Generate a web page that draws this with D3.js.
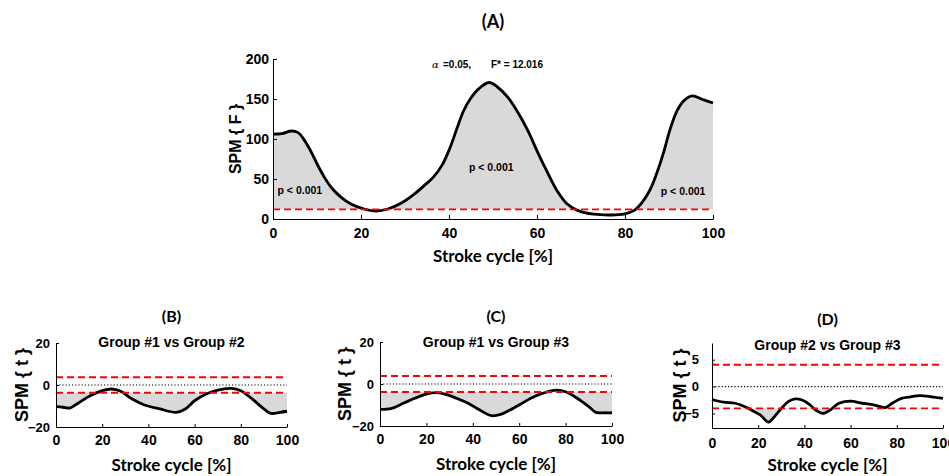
<!DOCTYPE html>
<html>
<head>
<meta charset="utf-8">
<script src="https://cdn.jsdelivr.net/npm/d3@7"></script>
<style>
body { margin: 0; background: #fff; }
svg { display: block; }
.arial { font-family: "Liberation Sans", Arial, sans-serif; font-weight: bold; fill: #000; }
.cal { font-family: Lato, "Open Sans", sans-serif; font-weight: 700; fill: #000; }
</style>
</head>
<body>
<script>
// ---- data ----
var xTicks = [0, 20, 40, 60, 80, 100];

// (A) SPM{F}
var aX = [0, 2, 4.2, 5.7, 7.2, 8.7, 10.2, 11.7, 13.2, 15.5, 17.7, 20.7, 23.4, 26.1, 29.1, 32.1, 34.4, 36.4, 38.5, 40.3, 41.8, 43.3, 44.9, 46.8, 49.1, 51, 53.3, 55.6, 57.9, 60.1, 62.4, 64.6, 66.8, 69.3, 72.9, 76.7, 79.7, 82, 83.9, 85.8, 87.3, 88.8, 90.3, 91.9, 93.4, 95.3, 97.5, 100];
var aF = [106, 106.7, 110, 108, 98, 83.6, 66.9, 52, 39.7, 27, 18.8, 12.5, 10, 12.5, 19.6, 31, 42, 52, 68, 90, 113, 135, 150.6, 163, 170.6, 165, 152.6, 133.8, 110.8, 84, 58, 35, 19, 10.5, 6, 5, 6, 10.4, 20.8, 37.6, 58.5, 83.6, 113, 136, 148, 153.8, 149.7, 145];
var aThreshold = 12.016;
var aYTicks = [0, 50, 100, 150, 200];

// (B) Group #1 vs Group #2
var bX = [0, 3, 6, 10, 15, 20, 24, 28, 33, 38, 45, 52, 56, 60, 65, 70, 76, 80, 85, 90, 93, 97, 100];
var bT = [-10.3, -10.6, -11, -8.3, -5, -2.7, -1.9, -3, -6.7, -9.4, -11.4, -13, -11.4, -7.5, -4.3, -2.4, -1.6, -2.7, -6.7, -11.4, -13.5, -13, -12.5];
var bThreshold = 3.7;

// (C) Group #1 vs Group #3
var cX = [0, 5, 10, 15, 20, 24, 28, 33, 38, 43, 48, 52, 56, 60, 65, 70, 76, 80, 85, 90, 93, 97, 100];
var cT = [-12.1, -11.6, -9.2, -6.8, -4.8, -4.1, -4.8, -6.8, -9.2, -12.4, -15.1, -14.5, -12.4, -10, -6.8, -4.5, -2.9, -3.7, -6.8, -10.8, -13.5, -13.7, -13.7];
var cThreshold = 3.8;

// (D) Group #2 vs Group #3
var dX = [0, 5, 10, 15, 18, 21, 24.5, 27, 30, 33, 36, 39, 42, 45, 48, 51, 55, 60, 65, 70, 75, 78, 82, 86, 90, 95, 100];
var dT = [-2.4, -2.9, -3.1, -3.9, -4.6, -5.3, -6.6, -5.6, -4.1, -2.8, -2.3, -2.5, -3.25, -4.4, -5.0, -4.4, -3.1, -2.7, -3.1, -3.4, -3.9, -3.1, -2.2, -1.9, -1.7, -1.9, -2.2];
var dThreshold = 4.06;

var tYTicks = [-20, 0, 20];
var dYTicks = [-5, 0, 5];

var pLabels = ["p < 0.001", "p < 0.001", "p < 0.001"];
var pLabelX = [6.1, 49.6, 93.2];
var pLabelY = [31.5, 60, 30];

// ---- layout ----
var svg = d3.select("body").append("svg")
  .attr("width", 949)
  .attr("height", 476);

var panels = [
  { id: "A", xs: aX, ys: aF, thr: aThreshold, twoSided: false, yDomain: [0, 200], yTicks: aYTicks,
    left: 273, right: 713, top: 59, bottom: 219, tick: 4, xPad: 9, yPad: 4, tickFont: 14,
    title: "(A)", titleY: 28, titleFont: 18, sub: null,
    xLabelY: 262, yLabel: "SPM { F }", yLabelX: 241, yLabelFont: 16 },
  { id: "B", xs: bX, ys: bT, thr: bThreshold, twoSided: true, yDomain: [-20, 20], yTicks: tYTicks,
    left: 56, right: 287, top: 343, bottom: 427, tick: 3, xPad: 8, yPad: 6, tickFont: 14, yTickFont: 13,
    title: "(B)", titleY: 322, titleFont: 16, sub: "Group #1 vs Group #2", subY: 347,
    xLabelY: 471, yLabel: "SPM { t }", yLabelX: 28, yLabelFont: 18 },
  { id: "C", xs: cX, ys: cT, thr: cThreshold, twoSided: true, yDomain: [-20, 20], yTicks: tYTicks,
    left: 380, right: 612, top: 342, bottom: 426, tick: 3, xPad: 8, yPad: 6, tickFont: 14, yTickFont: 13,
    title: "(C)", titleY: 322, titleFont: 16, sub: "Group #1 vs Group #3", subY: 346.5,
    xLabelY: 470, yLabel: "SPM { t }", yLabelX: 351, yLabelFont: 18 },
  { id: "D", xs: dX, ys: dT, thr: dThreshold, twoSided: true, yDomain: [-7.7, 8.1], yTicks: dYTicks,
    left: 712, right: 943, top: 343, bottom: 428, tick: 3, xPad: 10, yPad: 13, tickFont: 14, yTickFont: 13,
    title: "(D)", titleY: 325, titleFont: 16, sub: "Group #2 vs Group #3", subY: 349.5,
    xLabelY: 471, yLabel: "SPM { t }", yLabelX: 686, yLabelFont: 18 }
];

var defs = svg.append("defs");

panels.forEach(drawPanel);

function drawPanel(p) {
  var x = d3.scaleLinear().domain([0, 100]).range([p.left, p.right]);
  var y = d3.scaleLinear().domain(p.yDomain).range([p.bottom, p.top]);
  var pts = p.xs.map(function (d, i) { return [d, p.ys[i]]; });
  var curve = d3.curveCatmullRom.alpha(0.5);
  var g = svg.append("g").attr("class", "panel-" + p.id);

  // suprathreshold clusters
  var levels = p.twoSided ? [p.thr, -p.thr] : [p.thr];
  levels.forEach(function (lev, k) {
    var cid = "clip-" + p.id + "-" + k;
    var r = defs.append("clipPath").attr("id", cid).append("rect")
      .attr("x", p.left).attr("width", p.right - p.left);
    if (lev > 0) r.attr("y", p.top - 20).attr("height", y(lev) - p.top + 20);
    else r.attr("y", y(lev)).attr("height", p.bottom - y(lev));
    g.append("path")
      .datum(pts)
      .attr("clip-path", "url(#" + cid + ")")
      .attr("fill", "#d9d9d9")
      .attr("d", d3.area().x(function (d) { return x(d[0]); }).y0(y(lev)).y1(function (d) { return y(d[1]); }).curve(curve));
  });

  if (p.twoSided) {
    g.append("line")
      .attr("x1", x(0)).attr("x2", x(100))
      .attr("y1", y(0)).attr("y2", y(0))
      .attr("stroke", "#000").attr("stroke-width", 1.2)
      .attr("stroke-dasharray", "1.2,2");
  }

  g.append("path")
    .datum(pts)
    .attr("fill", "none")
    .attr("stroke", "#000")
    .attr("stroke-width", 2.8)
    .attr("stroke-linejoin", "round")
    .attr("d", d3.line().x(function (d) { return x(d[0]); }).y(function (d) { return y(d[1]); }).curve(curve));

  levels.forEach(function (lev) {
    g.append("line")
      .attr("x1", x(0)).attr("x2", x(100))
      .attr("y1", y(lev)).attr("y2", y(lev))
      .attr("stroke", "#ff0000").attr("stroke-width", 1.8)
      .attr("stroke-dasharray", "7,4");
  });

  // axes
  var xa = g.append("g")
    .attr("transform", "translate(0," + p.bottom + ")")
    .call(d3.axisBottom(x).tickValues(xTicks).tickSizeInner(-p.tick).tickSizeOuter(0).tickPadding(p.xPad));
  var ya = g.append("g")
    .attr("transform", "translate(" + p.left + ",0)")
    .call(d3.axisLeft(y).tickValues(p.yTicks).tickSizeInner(-p.tick).tickSizeOuter(0).tickPadding(p.yPad));
  [xa, ya].forEach(function (a) {
    a.attr("font-family", null).attr("font-size", null);
    a.selectAll("path, line").attr("stroke", "#000").attr("stroke-width", 1);
    a.selectAll("text").attr("class", "arial").attr("fill", "#000");
  });
  xa.selectAll("text").style("font-size", p.tickFont + "px");
  ya.selectAll("text").style("font-size", (p.yTickFont || p.tickFont) + "px");

  var cx = (p.left + p.right) / 2;

  g.append("text").attr("class", "cal")
    .attr("x", cx).attr("y", p.titleY)
    .attr("text-anchor", "middle")
    .style("font-size", p.titleFont + "px")
    .text(p.title);

  if (p.sub) {
    g.append("text").attr("class", "arial")
      .attr("x", cx).attr("y", p.subY)
      .attr("text-anchor", "middle")
      .style("font-size", "14px")
      .text(p.sub);
  }

  g.append("text").attr("class", "cal")
    .attr("x", cx).attr("y", p.xLabelY)
    .attr("text-anchor", "middle")
    .style("font-size", "17px")
    .text("Stroke cycle [%]");

  g.append("text").attr("class", "arial")
    .attr("transform", "translate(" + p.yLabelX + "," + ((p.top + p.bottom) / 2) + ") rotate(-90)")
    .attr("text-anchor", "middle")
    .style("font-size", p.yLabelFont + "px")
    .text(p.yLabel);

  if (p.id === "A") {
    pLabels.forEach(function (t, i) {
      g.append("text").attr("class", "arial")
        .attr("x", x(pLabelX[i])).attr("y", y(pLabelY[i]))
        .attr("text-anchor", "middle")
        .style("font-size", "10.5px")
        .text(t);
    });
    g.append("text")
      .attr("x", 432).attr("y", 68)
      .attr("font-family", "'DejaVu Serif', serif")
      .attr("font-style", "italic")
      .style("font-size", "10px")
      .text("\u03b1");
    g.append("text").attr("class", "arial")
      .attr("x", 443).attr("y", 68)
      .style("font-size", "10px")
      .text("=0.05,");
    g.append("text").attr("class", "arial")
      .attr("x", 491).attr("y", 68)
      .style("font-size", "10px")
      .text("F* = " + aThreshold.toFixed(3));
  }
}
</script>
</body>
</html>
